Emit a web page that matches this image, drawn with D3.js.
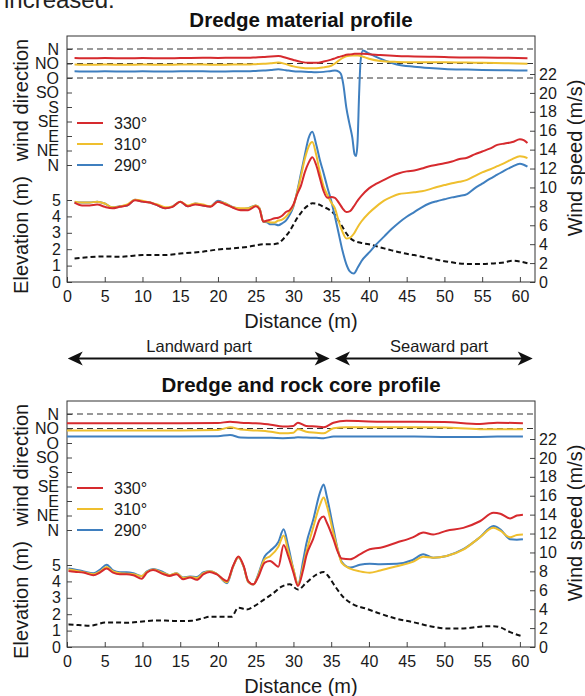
<!DOCTYPE html>
<html>
<head>
<meta charset="utf-8">
<script src="https://cdn.jsdelivr.net/npm/d3@7"></script>
<style>
body { margin: 0; background: #fff; }
svg { display: block; font-family: "Liberation Sans", Arial, sans-serif; }
</style>
</head>
<body>
<div id="chart"></div>
<script>
// ---- data ----
const distTicks = [0, 5, 10, 15, 20, 25, 30, 35, 40, 45, 50, 55, 60];
const elevTicks = [0, 1, 2, 3, 4, 5];
const speedTicks = [0, 2, 4, 6, 8, 10, 12, 14, 16, 18, 20, 22];
const dirTicks = [0, 45, 90, 135, 180, 225, 270, 315, 360];
const dirLabels = ["N", "NE", "E", "SE", "S", "SO", "O", "NO", "N"];
const seriesNames = ["330°", "310°", "290°"];

// top panel: dredge material profile
const topSpeedDist = [1,2,3,4,5,6,7,8,9,10,11,12,13,14,15,16,17,18,19,20,21,22,23,24,25,
  25.5,26,26.5,27,27.5,28,28.5,29,29.5,30,30.5,31,31.5,32,32.5,33,33.5,34,34.5,35,35.5,36,36.5,37,37.5,38,38.5,39,
  40,41,42,43,44,45,46,47,48,49,50,51,52,53,54,55,56,57,58,59,60,60.5,61];
const topSpeed330 = [8.4,8.1,8.1,8.2,7.95,7.8,7.95,8.1,8.65,8.5,8.4,8.1,7.8,7.95,8.5,8.0,8.2,8.1,7.95,8.5,8.2,7.85,7.6,7.6,8.0,
  7.7,6.4,6.5,6.6,6.75,6.8,7.0,7.4,7.6,8.2,9.3,10.2,11.6,12.6,13.2,12.4,11.0,9.6,8.9,9.0,8.9,8.4,7.8,7.4,7.5,8.0,8.6,9.1,
  9.9,10.4,10.8,11.2,11.5,11.7,11.8,12.0,12.25,12.4,12.55,12.75,13.0,13.15,13.5,13.8,14.1,14.5,14.65,14.8,15.1,15.0,14.7];
const topSpeed310 = [8.5,8.4,8.4,8.5,8.3,7.9,8.0,8.2,8.7,8.6,8.4,8.2,7.9,8.0,8.5,8.1,8.3,8.2,8.0,8.5,8.3,7.9,7.8,7.8,8.1,
  7.8,6.4,6.4,6.3,6.3,6.5,6.6,6.9,7.4,8.1,9.5,11.2,13.0,14.3,14.8,13.5,11.6,10.1,9.2,8.4,7.8,6.4,5.3,4.6,4.7,5.1,5.8,6.4,
  7.3,8.0,8.6,9.0,9.3,9.4,9.5,9.6,9.8,10.05,10.25,10.45,10.6,10.8,11.2,11.6,11.9,12.25,12.6,13.0,13.3,13.25,13.1];
const topSpeed290 = [8.4,8.4,8.4,8.5,8.3,7.9,8.0,8.1,8.7,8.5,8.4,8.1,7.8,8.0,8.5,8.0,8.3,8.1,8.0,8.6,8.3,7.9,7.7,7.8,8.1,
  7.8,6.4,6.3,6.1,6.1,6.0,6.2,6.5,7.1,8.0,9.6,11.5,13.4,15.2,15.9,14.6,12.9,11.5,10.0,8.6,6.9,5.1,3.3,1.9,1.1,0.9,1.5,2.2,
  3.1,4.0,4.8,5.6,6.3,6.9,7.4,7.9,8.3,8.55,8.75,8.95,9.1,9.3,9.9,10.4,10.9,11.35,11.8,12.2,12.5,12.4,12.2];

const topElevDist = [1,3,5,7,10,13,15,18,20,22,24,25,26,27,28,
  28.5,29,29.5,30,30.5,31,31.5,32,32.5,33,33.5,34,34.5,35,35.5,36,36.5,37,37.5,38,
  39,40,41,42,43,44,45,46,47,48,49,50,51,52,53,54,55,56,57,58,59,60,61];
const topElev = [1.44,1.52,1.56,1.54,1.64,1.64,1.74,1.85,1.98,2.05,2.15,2.24,2.3,2.3,2.36,
  2.55,2.8,3.1,3.5,3.9,4.22,4.5,4.68,4.8,4.78,4.7,4.58,4.47,4.32,4.1,3.72,3.35,2.97,2.68,2.52,
  2.38,2.3,2.18,2.05,1.93,1.82,1.72,1.64,1.54,1.45,1.36,1.27,1.2,1.13,1.1,1.1,1.1,1.12,1.15,1.2,1.3,1.25,1.14];

const topDirDist = [1,3,5,8,10,13,15,18,20,22,24,25,26,27,28,29,30,31,32,33,34,35,35.5,36,36.3,36.6,37,37.4,37.8,38.1,
  38.3,38.5,38.7,38.9,39.2,40,41.5,43.7,46,48,50,53,55,58,61];
const topDir330 = [332,331,332,331,332,331,332,333,332,333,333,334,335,337,338,333,326,320,317,317,
  321,327,331,335,337,339,342,343,344,345,345,345,345,345,345,344,341,338,337,336,335,334,334,333,331];
const topDir310 = [312,311,312,311,312,311,312,312,311,312,312,313,314,316,318,313,306,302,300,300,
  303,308,315,324,329,333,337,339,340,340,340,340,339,338,336,330,323,320,319,319,319,318,317,316,314];
const topDir290 = [291,290,291,290,291,290,291,291,290,291,291,292,293,295,297,294,291,290,289,288,
  289,292,293,290,282,251,179,130,85,33,28,75,221,324,355,346,330,312,305,301,298,296,295,294,293];

// bottom panel: dredge and rock core profile
const botSpeedDist = [0.2,1,2.2,3.5,4.4,5.25,6.1,7,7.9,8.8,9.9,10.6,11.4,12.8,13.6,14.5,15.4,16.3,17.2,18.1,
  18.9,19.8,21.2,22,22.7,23.4,24,24.7,25.3,26.2,26.9,28,28.7,29.3,30,30.6,31.3,31.7,32.6,33.5,
  34,34.4,35.3,35.9,36.4,37.5,38.8,40.1,41.5,43.7,45.8,47.2,48.5,50.3,52.5,54.7,56.5,57.4,58.7,59.6,60.4];
const botSpeed330 = [8.04,7.95,7.87,7.58,7.9,8.3,7.87,7.7,7.7,7.58,7.23,7.87,8.15,7.7,7.52,7.7,7.16,7.35,7.1,7.7,
  7.94,7.7,6.98,8.57,9.56,8.57,6.98,6.63,7.35,8.93,9.1,8.5,10.8,9.63,7.87,6.45,8.2,9.63,11.4,13.5,
  13.8,13.2,11.4,10.0,9.35,9.28,9.8,10.34,10.5,11.05,11.6,12.1,11.9,12.3,12.6,13.3,14.2,14.1,13.6,13.9,14.0];
const botSpeed310 = [8.2,8.1,7.9,7.7,8.0,8.45,8.0,7.8,7.75,7.7,7.5,7.95,8.2,7.8,7.6,7.8,7.3,7.4,7.3,7.8,
  8.0,7.75,6.85,8.5,9.5,8.5,6.9,6.6,7.5,9.3,9.6,10.6,11.8,10.16,8.2,6.6,8.6,10.0,12.6,15.0,
  15.8,15.0,12.0,10.2,8.9,8.3,8.0,7.85,8.1,8.55,9.0,9.55,9.45,9.63,10.3,11.6,12.6,12.3,11.6,11.85,11.9];
const botSpeed290 = [8.3,8.2,8.0,7.8,8.2,8.7,8.1,7.9,7.9,7.8,7.5,8.0,8.25,7.9,7.6,7.8,7.35,7.45,7.4,7.9,
  8.0,7.75,6.75,8.5,9.5,8.5,6.9,6.6,7.6,9.6,10.16,11.1,12.45,10.7,8.2,6.6,9.2,10.9,13.4,16.3,
  17.2,16.0,12.5,10.2,9.0,8.4,8.7,8.8,8.75,8.8,9.2,9.8,9.45,9.63,10.34,11.6,12.8,12.45,11.4,11.35,11.4];

const botElevDist = [0.2,1.5,3,4,5,6.5,8,10,12,13.5,15,16.5,18,19,20.5,21.8,22.7,23.8,24.7,26,
  27.3,28.5,29.5,30.6,31.7,33.1,34,34.6,35.5,36.7,37.9,39.7,41.5,43.7,45.8,48.1,50.3,52.5,54.7,56.5,57.4,58.7,60.3];
const botElev = [1.38,1.34,1.3,1.38,1.5,1.5,1.48,1.56,1.62,1.6,1.58,1.6,1.75,1.85,1.85,1.85,2.4,2.29,2.46,2.86,
  3.27,3.7,3.82,3.5,3.92,4.43,4.57,4.33,3.71,3.0,2.6,2.33,2.03,1.72,1.52,1.27,1.13,1.13,1.24,1.27,1.2,0.91,0.66];

const botDirDist = [0,5,10,15,20,21.6,23,25,27,28.6,30,30.6,31.7,33,34,35.3,37,41.5,46,50,54.7,57,60.4];
const botDir330 = [331,331,331,331,332,336,333,331,327,321,323,333,323,321,319,333,339,336,336,335,329,333,331];
const botDir310 = [309,309,309,309,310,319,312,309,305,300,302,313,305,302,300,316,319,319,319,318,313,313,313];
const botDir290 = [290,290,290,290,291,295,287,286,286,285,286,288,287,286,285,290,290,290,290,289,289,290,290];

const colours = ["#d62a2e", "#efbf2e", "#3f7fbf"];

// ---- drawing ----
const w = 585;
const h = 696;

const svg = d3.select("#chart")
    .append("svg")
    .attr("width", w)
    .attr("height", h);

const x = d3.scaleLinear().domain([0, 62]).range([67, 535]);

// clipped sentence from the page above the figure
svg.append("text")
    .attr("x", 4)
    .attr("y", 8)
    .attr("font-size", 24)
    .attr("fill", "#222")
    .text("increased.");

function zip(xs, ys) {
    return xs.map(function(d, i) { return [d, ys[i]]; });
}

function styleAxis(g, size) {
    g.select(".domain").remove();
    g.selectAll(".tick line").attr("stroke", "#444");
    g.selectAll(".tick text")
        .attr("font-size", size)
        .attr("fill", "#1a1a1a")
        .attr("font-family", "'Liberation Sans', Arial, sans-serif");
}

function drawPanel(p) {
    const base = p.base;
    const g = svg.append("g");

    const ySpeed = d3.scaleLinear().domain([0, 22]).range([base, base - 208]);
    const yElev = d3.scaleLinear().domain([0, 5]).range([base, base - 82]);
    const yDir = d3.scaleLinear().domain([0, 360]).range([base - 117, base - 233]);

    // title
    g.append("text")
        .attr("x", 301)
        .attr("y", base - 255)
        .attr("text-anchor", "middle")
        .attr("font-size", 20.5)
        .attr("font-weight", "bold")
        .attr("fill", "#111")
        .text(p.title);

    // dashed reference directions
    g.selectAll("line.ref")
        .data(p.refDirs)
        .enter()
        .append("line")
        .attr("class", "ref")
        .attr("x1", 67)
        .attr("x2", 535)
        .attr("y1", function(d) { return yDir(d); })
        .attr("y2", function(d) { return yDir(d); })
        .attr("stroke", "#333")
        .attr("stroke-width", 1)
        .attr("stroke-dasharray", "6,4");

    // axes
    const xAxis = g.append("g")
        .attr("transform", "translate(0," + base + ")")
        .call(d3.axisBottom(x).tickValues(distTicks).tickSize(-5).tickPadding(9));
    styleAxis(xAxis, 16);

    const elevAxis = g.append("g")
        .attr("transform", "translate(67,0)")
        .call(d3.axisLeft(yElev).tickValues(elevTicks).tickSize(-5).tickPadding(6)
            .tickFormat(d3.format("d")));
    styleAxis(elevAxis, 16);

    const dirAxis = g.append("g")
        .attr("transform", "translate(67,0)")
        .call(d3.axisLeft(yDir).tickValues(dirTicks).tickSize(-5).tickPadding(8)
            .tickFormat(function(d, i) { return dirLabels[i]; }));
    styleAxis(dirAxis, 16);

    const speedAxis = g.append("g")
        .attr("transform", "translate(535,0)")
        .call(d3.axisRight(ySpeed).tickValues(speedTicks).tickSize(-5).tickPadding(4));
    styleAxis(speedAxis, 16);

    // frame
    g.append("rect")
        .attr("x", 67)
        .attr("y", base - 246)
        .attr("width", 468)
        .attr("height", 246)
        .attr("fill", "none")
        .attr("stroke", "#333")
        .attr("stroke-width", 1);

    // axis titles
    g.append("text")
        .attr("transform", "translate(582," + (base - 124) + ") rotate(-90)")
        .attr("text-anchor", "middle")
        .attr("font-size", 20)
        .attr("fill", "#1a1a1a")
        .text("Wind speed (m/s)");

    g.append("text")
        .attr("transform", "translate(28," + (base - 47) + ") rotate(-90)")
        .attr("text-anchor", "middle")
        .attr("font-size", 20)
        .attr("fill", "#1a1a1a")
        .text("Elevation (m)");

    g.append("text")
        .attr("transform", "translate(28," + (base - 182) + ") rotate(-90)")
        .attr("text-anchor", "middle")
        .attr("font-size", 20)
        .attr("fill", "#1a1a1a")
        .text("wind direction");

    g.append("text")
        .attr("x", 301)
        .attr("y", base + 46)
        .attr("text-anchor", "middle")
        .attr("font-size", 20)
        .attr("fill", "#1a1a1a")
        .text("Distance (m)");

    // lines
    const line = function(ys) {
        return d3.line()
            .x(function(d) { return x(d[0]); })
            .y(function(d) { return ys(d[1]); })
            .curve(d3.curveMonotoneX);
    };

    g.append("path")
        .attr("d", line(yElev)(zip(p.elevDist, p.elev)))
        .attr("fill", "none")
        .attr("stroke", "#111")
        .attr("stroke-width", 2)
        .attr("stroke-dasharray", "5,3");

    // blue drawn first so red sits on top
    [2, 1, 0].forEach(function(i) {
        g.append("path")
            .attr("d", line(yDir)(zip(p.dirDist, p.dirs[i])))
            .attr("fill", "none")
            .attr("stroke", colours[i])
            .attr("stroke-width", 2);
        g.append("path")
            .attr("d", line(ySpeed)(zip(p.speedDist, p.speeds[i])))
            .attr("fill", "none")
            .attr("stroke", colours[i])
            .attr("stroke-width", 2);
    });

    // legend
    const legend = g.selectAll("g.legend")
        .data(seriesNames)
        .enter()
        .append("g")
        .attr("class", "legend")
        .attr("transform", function(d, i) {
            return "translate(77," + (base - 159 + i * 21) + ")";
        });

    legend.append("line")
        .attr("x1", 0)
        .attr("x2", 26)
        .attr("stroke", function(d, i) { return colours[i]; })
        .attr("stroke-width", 2);

    legend.append("text")
        .attr("x", 37)
        .attr("y", 6)
        .attr("font-size", 16)
        .attr("fill", "#1a1a1a")
        .text(function(d) { return d; });
}

drawPanel({
    base: 282,
    title: "Dredge material profile",
    refDirs: [360, 315, 270],
    speedDist: topSpeedDist,
    speeds: [topSpeed330, topSpeed310, topSpeed290],
    elevDist: topElevDist,
    elev: topElev,
    dirDist: topDirDist,
    dirs: [topDir330, topDir310, topDir290]
});

drawPanel({
    base: 647,
    title: "Dredge and rock core profile",
    refDirs: [360, 315],
    speedDist: botSpeedDist,
    speeds: [botSpeed330, botSpeed310, botSpeed290],
    elevDist: botElevDist,
    elev: botElev,
    dirDist: botDirDist,
    dirs: [botDir330, botDir310, botDir290]
});

// landward / seaward arrows
const parts = [
    { name: "Landward part", from: 0.1, to: 34.8, label: 17.5 },
    { name: "Seaward part", from: 35.5, to: 61.7, label: 49.3 }
];
const arrowY = 358.5;

function arrowHead(tipX, dir) {
    // dir = -1 points left, 1 points right
    const b = tipX - dir * 15;
    return "M" + tipX + "," + arrowY +
        "L" + b + "," + (arrowY - 7) +
        "L" + (b + dir * 4) + "," + arrowY +
        "L" + b + "," + (arrowY + 7) + "Z";
}

const arrows = svg.selectAll("g.part")
    .data(parts)
    .enter()
    .append("g")
    .attr("class", "part");

arrows.append("line")
    .attr("x1", function(d) { return x(d.from) + 4; })
    .attr("x2", function(d) { return x(d.to) - 4; })
    .attr("y1", arrowY)
    .attr("y2", arrowY)
    .attr("stroke", "#111")
    .attr("stroke-width", 2);

arrows.append("path")
    .attr("d", function(d) { return arrowHead(x(d.from), -1) + arrowHead(x(d.to), 1); })
    .attr("fill", "#111");

arrows.append("text")
    .attr("x", function(d) { return x(d.label); })
    .attr("y", 351.5)
    .attr("text-anchor", "middle")
    .attr("font-size", 16.5)
    .attr("fill", "#1a1a1a")
    .text(function(d) { return d.name; });
</script>
</body>
</html>
